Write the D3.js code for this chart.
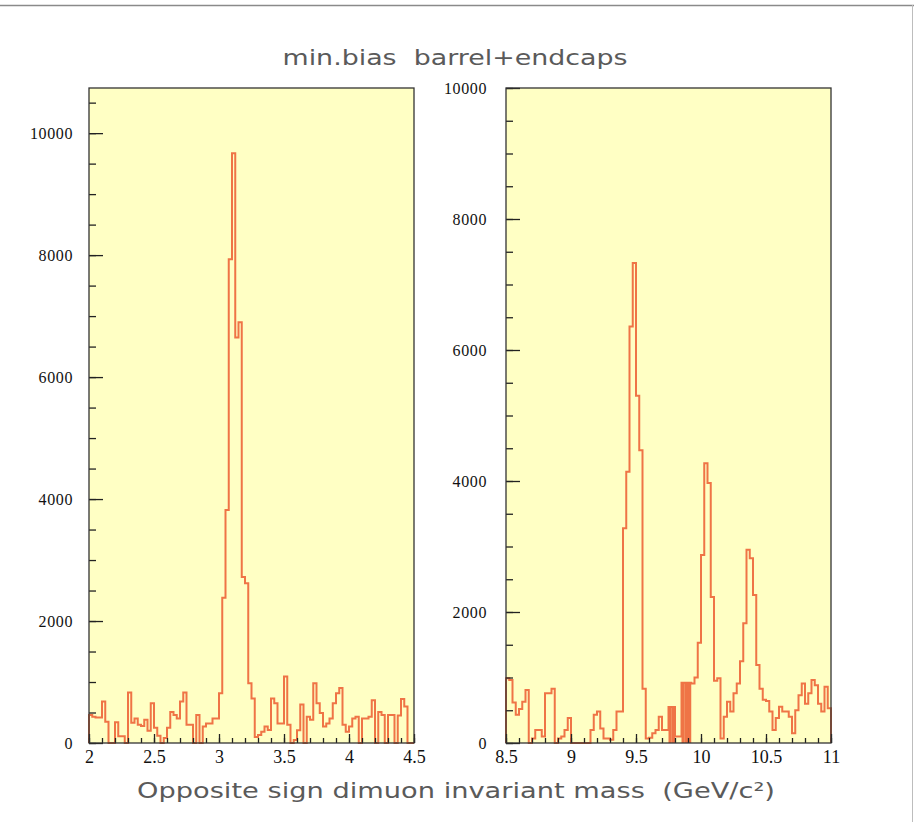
<!DOCTYPE html>
<html lang="en">
<head>
<meta charset="UTF-8">
<title>Opposite sign dimuon invariant mass</title>
<script src="https://d3js.org/d3.v7.min.js"></script>
<style>
  body { margin: 0; background: #fff; }
  .tick text { font-family: "Liberation Serif", serif; fill: #111; }
  .title { white-space: pre; }
</style>
</head>
<body>
<svg id="chart" width="914" height="822"></svg>
<script>
// J/psi region: 100 bins of 0.025 GeV from 2.0 to 4.5
var jpsiRange = [2.0, 4.5];
var jpsiCounts = [
  460, 430, 420, 420, 680, 350, 0, 0, 340, 110,
  110, 0, 830, 330, 400, 300, 280, 380, 200, 650,
  250, 120, 0, 80, 250, 510, 460, 400, 680, 830,
  300, 300, 0, 460, 0, 270, 320, 320, 400, 400,
  815, 2380, 3820, 7930, 9670, 6650, 6900, 2720, 2620, 980,
  730, 100, 130, 185, 270, 215, 730, 650, 320, 320,
  1090, 300, 0, 50, 210, 630, 0, 430, 380, 980,
  650, 490, 270, 320, 400, 650, 815, 900, 300, 185,
  270, 400, 430, 0, 400, 400, 430, 700, 0, 510,
  460, 0, 460, 460, 0, 450, 720, 600, 0, 0
];
var jpsiYMax = 10740;

// Upsilon region: 100 bins of 0.025 GeV from 8.5 to 11.0
var upsRange = [8.5, 11.0];
var upsCounts = [
  990, 960, 620, 430, 520, 630, 810, 0, 70, 200,
  200, 100, 760, 760, 830, 0, 70, 100, 200, 380,
  0, 0, 0, 0, 0, 0, 200, 430, 480, 220,
  70, 70, 50, 200, 480, 480, 3280, 4140, 6360, 7330,
  5300, 4470, 830, 70, 80, 150, 200, 400, 200, 200,
  550, 550, 100, 100, 920, 920, 920, 910, 1000, 1530,
  2870, 4270, 3970, 2230, 950, 990, 70, 400, 630, 480,
  760, 910, 1250, 1830, 2950, 2820, 2260, 1190, 830, 660,
  640, 480, 200, 380, 555, 480, 480, 400, 150, 500,
  730, 910, 600, 760, 960, 880, 600, 480, 860, 530
];
// bins that appear as solid orange blocks in the original
var upsSolidBins = [50, 51, 54, 55, 56];
var upsYMax = 10000;

// tick labels
var countTicks = [0, 2000, 4000, 6000, 8000, 10000];
var jpsiMassTicks = [2, 2.5, 3, 3.5, 4, 4.5];
var upsMassTicks = [8.5, 9, 9.5, 10, 10.5, 11];

var title = "min.bias  barrel+endcaps";
var xTitle = "Opposite sign dimuon invariant mass  (GeV/c\u00b2)";

var lineColor = "#ef7446";
var svg = d3.select("#chart");

// page border lines
svg.append("line").attr("x1", 0).attr("x2", 914).attr("y1", 5.5).attr("y2", 5.5)
  .attr("stroke", "#8a8a8a").attr("stroke-width", 1.5);
svg.append("line").attr("x1", 912.5).attr("x2", 912.5).attr("y1", 5).attr("y2", 822)
  .attr("stroke", "#bdbdbd").attr("stroke-width", 1);

svg.append("text")
  .attr("class", "title")
  .attr("x", 455).attr("y", 65)
  .attr("text-anchor", "middle")
  .attr("textLength", 345).attr("lengthAdjust", "spacingAndGlyphs")
  .style("font-family", "DejaVu Sans").style("font-size", "21px").style("fill", "#5a5a5a")
  .text(title);

svg.append("text")
  .attr("class", "title")
  .attr("x", 456).attr("y", 798)
  .attr("text-anchor", "middle")
  .attr("textLength", 638).attr("lengthAdjust", "spacingAndGlyphs")
  .style("font-family", "DejaVu Sans").style("font-size", "22px").style("fill", "#5a5a5a")
  .text(xTitle);

drawPanel({ left: 89, right: 414, top: 88, bottom: 743 },
          jpsiRange, jpsiCounts, jpsiYMax, jpsiMassTicks, [], 0);
drawPanel({ left: 506, right: 831, top: 88, bottom: 743 },
          upsRange, upsCounts, upsYMax, upsMassTicks, upsSolidBins, 1);

function drawPanel(box, range, counts, yMax, massTicks, solidBins, idx) {
  var g = svg.append("g");
  var x = d3.scaleLinear().domain(range).range([box.left, box.right]);
  var y = d3.scaleLinear().domain([0, yMax]).range([box.bottom, box.top]);
  var n = counts.length;
  var w = (range[1] - range[0]) / n;

  // frame background
  g.append("rect")
    .attr("x", box.left).attr("y", box.top)
    .attr("width", box.right - box.left).attr("height", box.bottom - box.top)
    .attr("fill", "#ffffc4");

  // solid blocks
  g.selectAll("rect.solid")
    .data(solidBins)
    .enter()
    .append("rect")
    .attr("class", "solid")
    .attr("x", function(i) { return x(range[0] + i * w); })
    .attr("y", function(i) { return y(counts[i]); })
    .attr("width", function(i) { return x(range[0] + (i + 1) * w) - x(range[0] + i * w); })
    .attr("height", function(i) { return y(0) - y(counts[i]); })
    .attr("fill", lineColor);

  // histogram outline
  var pts = [[range[0], 0]];
  counts.forEach(function(c, i) {
    pts.push([range[0] + i * w, c]);
    pts.push([range[0] + (i + 1) * w, c]);
  });
  pts.push([range[1], 0]);
  var line = d3.line()
    .x(function(d) { return x(d[0]); })
    .y(function(d) { return y(d[1]); });
  g.append("path")
    .attr("d", line(pts))
    .attr("fill", "none")
    .attr("stroke", lineColor)
    .attr("stroke-width", 2)
    .attr("stroke-linejoin", "miter");

  // y axis: minor every 500, labelled every 2000, ticks inward
  var minorY = d3.range(0, yMax + 1, 500);
  g.append("g")
    .attr("transform", "translate(" + box.left + ",0)")
    .call(d3.axisLeft(y).tickValues(minorY).tickSize(-7).tickFormat(""))
    .call(function(a) { a.select(".domain").remove(); });
  var yAx = g.append("g")
    .attr("transform", "translate(" + box.left + ",0)")
    .call(d3.axisLeft(y).tickValues(countTicks).tickSize(-14).tickPadding(idx ? 19 : 16)
      .tickFormat(d3.format("d")));
  yAx.select(".domain").remove();
  yAx.selectAll("text").style("font-size", "16px").style("letter-spacing", "0.6px");
  g.selectAll(".tick line").attr("stroke", "#222").attr("stroke-width", 1.3);

  // x axis: minor every 0.1, major every 0.5
  var minorX = d3.range(0, 26).map(function(i) { return +(range[0] + i * 0.1).toFixed(2); });
  g.append("g")
    .attr("transform", "translate(0," + box.bottom + ")")
    .call(d3.axisBottom(x).tickValues(minorX).tickSize(-5).tickFormat(""))
    .call(function(a) { a.select(".domain").remove(); });
  var xAx = g.append("g")
    .attr("transform", "translate(0," + box.bottom + ")")
    .call(d3.axisBottom(x).tickValues(massTicks).tickSize(-9).tickPadding(7)
      .tickFormat(function(d) { return String(d); }));
  xAx.select(".domain").remove();
  xAx.selectAll("text").style("font-size", "18px");
  g.selectAll(".tick line").attr("stroke", "#222").attr("stroke-width", 1.3);

  // frame outline
  g.append("rect")
    .attr("x", box.left).attr("y", box.top)
    .attr("width", box.right - box.left).attr("height", box.bottom - box.top)
    .attr("fill", "none")
    .attr("stroke", "#333")
    .attr("stroke-width", 1.3);
}
</script>
</body>
</html>
